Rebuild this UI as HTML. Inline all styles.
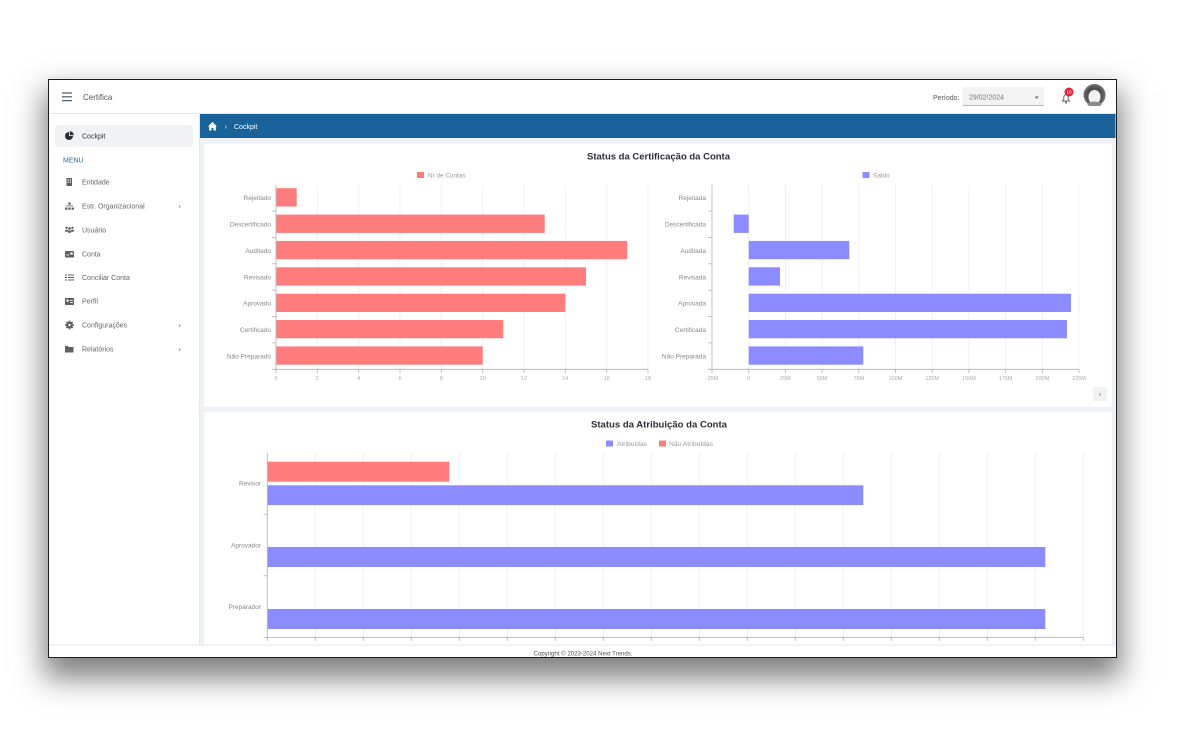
<!DOCTYPE html>
<html><head><meta charset="utf-8">
<style>
html,body{margin:0;padding:0;background:#fff;width:1200px;height:747px;overflow:hidden;}
#win{position:absolute;left:48px;top:79px;width:1069px;height:579px;box-sizing:border-box;border:1.5px solid #1c1c1c;background:#fff;box-shadow:0 16px 28px 4px rgba(0,0,0,0.5);}
svg{position:absolute;left:0;top:0;}
text{font-family:"Liberation Sans",Arial,sans-serif;}
</style></head><body>
<div id="win"></div>
<svg width="1200" height="747" viewBox="0 0 1200 747">
<!-- backgrounds -->
<rect x="199.5" y="113.5" width="916" height="531.5" fill="#eef2f7"/>
<rect x="49.5" y="113.5" width="150" height="531.5" fill="#fff"/>
<line x1="199.5" y1="113.5" x2="199.5" y2="645" stroke="#e4e7ec" stroke-width="1"/>
<line x1="49.5" y1="113.5" x2="1115.5" y2="113.5" stroke="#e8e8e8" stroke-width="1"/>
<rect x="200" y="114" width="915.5" height="24" fill="#1a639a"/>
<rect x="204" y="144" width="908" height="263" fill="#fff"/>
<rect x="204" y="412" width="908" height="233" fill="#fff"/>

<!-- header -->
<g stroke="#5a6470" stroke-width="1.3">
<line x1="62" y1="93" x2="72" y2="93"/><line x1="62" y1="96.8" x2="72" y2="96.8"/><line x1="62" y1="100.6" x2="72" y2="100.6"/>
</g>
<text x="83" y="100" font-size="8" fill="#555">Certifica</text>
<text x="933" y="100" font-size="7" fill="#555">Período:</text>
<rect x="963" y="87" width="81" height="19" fill="#f3f3f3"/>
<line x1="963" y1="105.5" x2="1044" y2="105.5" stroke="#b5b5b5" stroke-width="1"/>
<text x="969" y="99.5" font-size="7" fill="#777">29/02/2024</text>
<path d="M1034.5 96.5 L1039 96.5 L1036.75 99 Z" fill="#777"/>
<!-- bell -->
<path d="M1062.5 101 L1063.8 99.5 L1063.8 96.5 Q1066 92.5 1068.2 96.5 L1068.2 99.5 L1069.5 101 Z" fill="none" stroke="#667" stroke-width="1"/>
<circle cx="1066" cy="102.5" r="1" fill="#667"/>
<circle cx="1069" cy="92" r="4.5" fill="#e0243b"/>
<text x="1069" y="93.7" font-size="4.5" fill="#fff" text-anchor="middle">10</text>
<!-- avatar -->
<circle cx="1094.5" cy="95" r="11" fill="#6a6a6a"/>
<circle cx="1094.5" cy="95" r="9" fill="#555"/>
<ellipse cx="1094.5" cy="97" rx="6" ry="7" fill="#f0f0f0"/>
<path d="M1088 93 Q1094.5 84 1101 93 L1100 90 Q1094.5 86 1089 90 Z" fill="#444"/>
<path d="M1087 104 Q1094.5 99 1102 104 L1100 106 L1089 106 Z" fill="#8a8a8a"/>

<!-- breadcrumb -->
<path d="M208 126.5 L212.5 122 L217 126.5 L215.8 126.5 L215.8 130.5 L213.5 130.5 L213.5 128 L211.5 128 L211.5 130.5 L209.2 130.5 L209.2 126.5 Z" fill="#fff"/>
<text x="224.5" y="129" font-size="7.5" fill="#fff">›</text>
<text x="234" y="129" font-size="7" fill="#fff">Cockpit</text>

<!-- sidebar -->
<rect x="55" y="125" width="138" height="22" rx="3" fill="#f1f2f4"/>
<circle cx="69" cy="136" r="4" fill="#2e2e2e"/>
<path d="M69 136 L69 131.5 A4.5 4.5 0 0 1 73.5 136 Z" fill="#f1f2f4"/>
<path d="M69.8 135.2 L69.8 131.2 A4 4 0 0 1 73.8 135.2 Z" fill="#2e2e2e"/>
<text x="82" y="138.5" font-size="7" fill="#333">Cockpit</text>
<text x="63" y="162.5" font-size="7" fill="#2a6aa0">MENU</text>

<g fill="#606060">
<rect x="66.5" y="178" width="5.5" height="8" />
<rect x="67.6" y="179.3" width="1.2" height="1.2" fill="#fff"/><rect x="69.8" y="179.3" width="1.2" height="1.2" fill="#fff"/>
<rect x="67.6" y="181.5" width="1.2" height="1.2" fill="#fff"/><rect x="69.8" y="181.5" width="1.2" height="1.2" fill="#fff"/>
<rect x="68.3" y="202.5" width="2.4" height="2.2"/>
<rect x="65" y="207.5" width="2.4" height="2.2"/><rect x="68.3" y="207.5" width="2.4" height="2.2"/><rect x="71.6" y="207.5" width="2.4" height="2.2"/>
<rect x="66" y="205.5" width="7" height="0.8"/>
<circle cx="66.5" cy="227.8" r="1.2"/><circle cx="72.5" cy="227.8" r="1.2"/><circle cx="69.5" cy="228.5" r="1.4"/>
<rect x="65" y="229.8" width="3" height="2" rx="0.8"/><rect x="71" y="229.8" width="3" height="2" rx="0.8"/><rect x="67.8" y="230.5" width="3.4" height="2.3" rx="0.8"/>
<rect x="65" y="251" width="9" height="6.5" rx="0.8"/>
<rect x="66.2" y="254.5" width="3" height="0.8" fill="#fff"/><rect x="70.3" y="252.5" width="2.5" height="2" fill="#fff"/>
<rect x="65" y="274.5" width="2" height="1"/><rect x="68" y="274.5" width="6" height="1"/>
<rect x="65" y="277" width="2" height="1"/><rect x="68" y="277" width="6" height="1"/>
<rect x="65" y="279.5" width="2" height="1"/><rect x="68" y="279.5" width="6" height="1"/>
<rect x="65" y="298" width="9" height="7" rx="0.6"/>
<circle cx="67.6" cy="300.7" r="1.2" fill="#fff"/><rect x="70" y="300" width="3" height="0.8" fill="#fff"/><rect x="70" y="302" width="3" height="0.8" fill="#fff"/>
<circle cx="69.5" cy="325" r="3.4"/>
<g stroke="#606060" stroke-width="1.6"><line x1="69.5" y1="320.6" x2="69.5" y2="329.4"/><line x1="65.1" y1="325" x2="73.9" y2="325"/><line x1="66.4" y1="321.9" x2="72.6" y2="328.1"/><line x1="72.6" y1="321.9" x2="66.4" y2="328.1"/></g>
<circle cx="69.5" cy="325" r="1.2" fill="#fff"/>
<path d="M65 346 L68 346 L69 347 L73.5 347 L73.5 352.5 L65 352.5 Z"/>
</g>
<g font-size="7" fill="#666">
<text x="82" y="184.5">Entidade</text>
<text x="82" y="208.5">Estr. Organizacional</text>
<text x="82" y="232.5">Usuário</text>
<text x="82" y="256.5">Conta</text>
<text x="82" y="280">Conciliar Conta</text>
<text x="82" y="303.5">Perfil</text>
<text x="82" y="327.5">Configurações</text>
<text x="82" y="351.5">Relatórios</text>
</g>
<g font-size="7" fill="#666">
<text x="178.5" y="208.3">›</text>
<text x="178.5" y="327.3">›</text>
<text x="178.5" y="351.3">›</text>
</g>

<!-- ===== Chart 1 title ===== -->
<text x="658.5" y="159.5" font-size="9.5" font-weight="bold" fill="#2d2d36" text-anchor="middle" textLength="143" lengthAdjust="spacingAndGlyphs">Status da Certificação da Conta</text>

<!-- Left chart -->
<rect x="417" y="172" width="7" height="6" fill="#ff7c7c"/>
<text x="428" y="177.5" font-size="6.5" fill="#999" textLength="37.5" lengthAdjust="spacingAndGlyphs">Nr de Contas</text>
<g stroke="#ececec" stroke-width="0.8">
<line x1="317.3" y1="184.7" x2="317.3" y2="369.3"/><line x1="358.7" y1="184.7" x2="358.7" y2="369.3"/>
<line x1="400" y1="184.7" x2="400" y2="369.3"/><line x1="441.3" y1="184.7" x2="441.3" y2="369.3"/>
<line x1="482.7" y1="184.7" x2="482.7" y2="369.3"/><line x1="524" y1="184.7" x2="524" y2="369.3"/>
<line x1="565.3" y1="184.7" x2="565.3" y2="369.3"/><line x1="606.7" y1="184.7" x2="606.7" y2="369.3"/>
<line x1="648" y1="184.7" x2="648" y2="369.3"/>
</g>
<g stroke="#b0b0b0" stroke-width="0.8">
<line x1="276" y1="184.7" x2="276" y2="373"/><line x1="272" y1="369.3" x2="648" y2="369.3"/>
<line x1="272" y1="211.1" x2="276" y2="211.1"/><line x1="272" y1="237.4" x2="276" y2="237.4"/>
<line x1="272" y1="263.8" x2="276" y2="263.8"/><line x1="272" y1="290.2" x2="276" y2="290.2"/>
<line x1="272" y1="316.6" x2="276" y2="316.6"/><line x1="272" y1="342.9" x2="276" y2="342.9"/>
<line x1="317.3" y1="369.3" x2="317.3" y2="373"/><line x1="358.7" y1="369.3" x2="358.7" y2="373"/>
<line x1="400" y1="369.3" x2="400" y2="373"/><line x1="441.3" y1="369.3" x2="441.3" y2="373"/>
<line x1="482.7" y1="369.3" x2="482.7" y2="373"/><line x1="524" y1="369.3" x2="524" y2="373"/>
<line x1="565.3" y1="369.3" x2="565.3" y2="373"/><line x1="606.7" y1="369.3" x2="606.7" y2="373"/>
<line x1="648" y1="369.3" x2="648" y2="373"/>
</g>
<g fill="#ff7c7c">
<rect x="276.4" y="188.2" width="20.3" height="18.3"/>
<rect x="276.4" y="214.6" width="268.3" height="18.3"/>
<rect x="276.4" y="240.9" width="350.9" height="18.3"/>
<rect x="276.4" y="267.3" width="309.6" height="18.3"/>
<rect x="276.4" y="293.7" width="288.9" height="18.3"/>
<rect x="276.4" y="320.0" width="226.9" height="18.3"/>
<rect x="276.4" y="346.4" width="206.3" height="18.3"/>
</g>
<g font-size="6.5" fill="#888" text-anchor="end">
<text x="271" y="200.2">Rejeitado</text>
<text x="271" y="226.5">Descertificado</text>
<text x="271" y="252.9">Auditado</text>
<text x="271" y="279.3">Revisado</text>
<text x="271" y="305.7">Aprovado</text>
<text x="271" y="332">Certificado</text>
<text x="271" y="358.4">Não Preparado</text>
</g>
<g font-size="5.5" fill="#aaa" text-anchor="middle">
<text x="276" y="380">0</text><text x="317.3" y="380">2</text><text x="358.7" y="380">4</text>
<text x="400" y="380">6</text><text x="441.3" y="380">8</text><text x="482.7" y="380">10</text>
<text x="524" y="380">12</text><text x="565.3" y="380">14</text><text x="606.7" y="380">16</text>
<text x="648" y="380">18</text>
</g>

<!-- Right chart -->
<rect x="862.5" y="172" width="7" height="6" fill="#8c8bff"/>
<text x="873" y="177.5" font-size="6.5" fill="#999">Saldo</text>
<g stroke="#ececec" stroke-width="0.8">
<line x1="748.7" y1="184.7" x2="748.7" y2="369.3"/><line x1="785.4" y1="184.7" x2="785.4" y2="369.3"/>
<line x1="822.1" y1="184.7" x2="822.1" y2="369.3"/><line x1="858.8" y1="184.7" x2="858.8" y2="369.3"/>
<line x1="895.5" y1="184.7" x2="895.5" y2="369.3"/><line x1="932.2" y1="184.7" x2="932.2" y2="369.3"/>
<line x1="968.9" y1="184.7" x2="968.9" y2="369.3"/><line x1="1005.6" y1="184.7" x2="1005.6" y2="369.3"/>
<line x1="1042.3" y1="184.7" x2="1042.3" y2="369.3"/><line x1="1079" y1="184.7" x2="1079" y2="369.3"/>
</g>
<g stroke="#b0b0b0" stroke-width="0.8">
<line x1="712" y1="184.7" x2="712" y2="373"/><line x1="708" y1="369.3" x2="1079" y2="369.3"/>
<line x1="708" y1="211.1" x2="712" y2="211.1"/><line x1="708" y1="237.4" x2="712" y2="237.4"/>
<line x1="708" y1="263.8" x2="712" y2="263.8"/><line x1="708" y1="290.2" x2="712" y2="290.2"/>
<line x1="708" y1="316.6" x2="712" y2="316.6"/><line x1="708" y1="342.9" x2="712" y2="342.9"/>
<line x1="748.7" y1="369.3" x2="748.7" y2="373"/><line x1="785.4" y1="369.3" x2="785.4" y2="373"/>
<line x1="822.1" y1="369.3" x2="822.1" y2="373"/><line x1="858.8" y1="369.3" x2="858.8" y2="373"/>
<line x1="895.5" y1="369.3" x2="895.5" y2="373"/><line x1="932.2" y1="369.3" x2="932.2" y2="373"/>
<line x1="968.9" y1="369.3" x2="968.9" y2="373"/><line x1="1005.6" y1="369.3" x2="1005.6" y2="373"/>
<line x1="1042.3" y1="369.3" x2="1042.3" y2="373"/><line x1="1079" y1="369.3" x2="1079" y2="373"/>
</g>
<g fill="#8c8bff">
<rect x="733.7" y="214.6" width="15" height="18.3"/>
<rect x="748.7" y="240.9" width="100.6" height="18.3"/>
<rect x="748.7" y="267.3" width="31.3" height="18.3"/>
<rect x="748.7" y="293.7" width="322.3" height="18.3"/>
<rect x="748.7" y="320.0" width="318.3" height="18.3"/>
<rect x="748.7" y="346.4" width="114.6" height="18.3"/>
</g>
<g font-size="6.5" fill="#888" text-anchor="end">
<text x="706" y="200.2">Rejeitada</text>
<text x="706" y="226.5">Descertificada</text>
<text x="706" y="252.9">Auditada</text>
<text x="706" y="279.3">Revisada</text>
<text x="706" y="305.7">Aprovada</text>
<text x="706" y="332">Certificada</text>
<text x="706" y="358.4">Não Preparada</text>
</g>
<g font-size="5.5" fill="#aaa" text-anchor="middle">
<text x="712" y="380">-25M</text><text x="748.7" y="380">0</text><text x="785.4" y="380">25M</text>
<text x="822.1" y="380">50M</text><text x="858.8" y="380">75M</text><text x="895.5" y="380">100M</text>
<text x="932.2" y="380">125M</text><text x="968.9" y="380">150M</text><text x="1005.6" y="380">175M</text>
<text x="1042.3" y="380">200M</text><text x="1079" y="380">225M</text>
</g>
<rect x="1093" y="387" width="14" height="14" fill="#f2f2f2"/>
<text x="1100" y="396.5" font-size="7" fill="#555" text-anchor="middle">‹</text>

<!-- ===== Chart 2 ===== -->
<text x="659" y="427.5" font-size="9.5" font-weight="bold" fill="#2d2d36" text-anchor="middle" textLength="136" lengthAdjust="spacingAndGlyphs">Status da Atribuição da Conta</text>
<rect x="606" y="440.5" width="7" height="6" fill="#8c8bff"/>
<text x="617" y="446" font-size="6.5" fill="#999" textLength="30" lengthAdjust="spacingAndGlyphs">Atribuídas</text>
<rect x="659" y="440.5" width="7" height="6" fill="#ff7c7c"/>
<text x="669" y="446" font-size="6.5" fill="#999" textLength="44" lengthAdjust="spacingAndGlyphs">Não Atribuídas</text>
<g stroke="#ececec" stroke-width="0.8">
<line x1="315.3" y1="452.7" x2="315.3" y2="637.3"/><line x1="363.3" y1="452.7" x2="363.3" y2="637.3"/>
<line x1="411.3" y1="452.7" x2="411.3" y2="637.3"/><line x1="459.3" y1="452.7" x2="459.3" y2="637.3"/>
<line x1="507.3" y1="452.7" x2="507.3" y2="637.3"/><line x1="555.3" y1="452.7" x2="555.3" y2="637.3"/>
<line x1="603.3" y1="452.7" x2="603.3" y2="637.3"/><line x1="651.3" y1="452.7" x2="651.3" y2="637.3"/>
<line x1="699.3" y1="452.7" x2="699.3" y2="637.3"/><line x1="747.3" y1="452.7" x2="747.3" y2="637.3"/>
<line x1="795.3" y1="452.7" x2="795.3" y2="637.3"/><line x1="843.3" y1="452.7" x2="843.3" y2="637.3"/>
<line x1="891.3" y1="452.7" x2="891.3" y2="637.3"/><line x1="939.3" y1="452.7" x2="939.3" y2="637.3"/>
<line x1="987.3" y1="452.7" x2="987.3" y2="637.3"/><line x1="1035.3" y1="452.7" x2="1035.3" y2="637.3"/>
<line x1="1083.3" y1="452.7" x2="1083.3" y2="637.3"/>
</g>
<g stroke="#b0b0b0" stroke-width="0.8">
<line x1="267.3" y1="452.7" x2="267.3" y2="641"/><line x1="263.5" y1="637.3" x2="1083.3" y2="637.3"/>
<line x1="263.5" y1="514.2" x2="267.3" y2="514.2"/><line x1="263.5" y1="575.8" x2="267.3" y2="575.8"/>
<line x1="315.3" y1="637.3" x2="315.3" y2="641"/><line x1="363.3" y1="637.3" x2="363.3" y2="641"/>
<line x1="411.3" y1="637.3" x2="411.3" y2="641"/><line x1="459.3" y1="637.3" x2="459.3" y2="641"/>
<line x1="507.3" y1="637.3" x2="507.3" y2="641"/><line x1="555.3" y1="637.3" x2="555.3" y2="641"/>
<line x1="603.3" y1="637.3" x2="603.3" y2="641"/><line x1="651.3" y1="637.3" x2="651.3" y2="641"/>
<line x1="699.3" y1="637.3" x2="699.3" y2="641"/><line x1="747.3" y1="637.3" x2="747.3" y2="641"/>
<line x1="795.3" y1="637.3" x2="795.3" y2="641"/><line x1="843.3" y1="637.3" x2="843.3" y2="641"/>
<line x1="891.3" y1="637.3" x2="891.3" y2="641"/><line x1="939.3" y1="637.3" x2="939.3" y2="641"/>
<line x1="987.3" y1="637.3" x2="987.3" y2="641"/><line x1="1035.3" y1="637.3" x2="1035.3" y2="641"/>
<line x1="1083.3" y1="637.3" x2="1083.3" y2="641"/>
</g>
<rect x="267.7" y="461.7" width="181.6" height="20" fill="#ff7c7c"/>
<g fill="#8c8bff">
<rect x="267.7" y="485.3" width="595.6" height="19.8"/>
<rect x="267.7" y="547" width="777.6" height="20"/>
<rect x="267.7" y="609" width="777.6" height="20"/>
</g>
<g font-size="6.5" fill="#888" text-anchor="end">
<text x="261" y="485.3">Revisor</text>
<text x="261" y="547.5">Aprovador</text>
<text x="261" y="609">Preparador</text>
</g>

<!-- footer -->
<rect x="49.5" y="645" width="1066" height="11.5" fill="#fff"/>
<line x1="49.5" y1="645" x2="1115.5" y2="645" stroke="#e3e7ee" stroke-width="1"/>
<text x="583" y="655.3" font-size="6" fill="#555" text-anchor="middle" textLength="99" lengthAdjust="spacingAndGlyphs">Copyright © 2023-2024 Next Trends.</text>
</svg>
</body></html>
